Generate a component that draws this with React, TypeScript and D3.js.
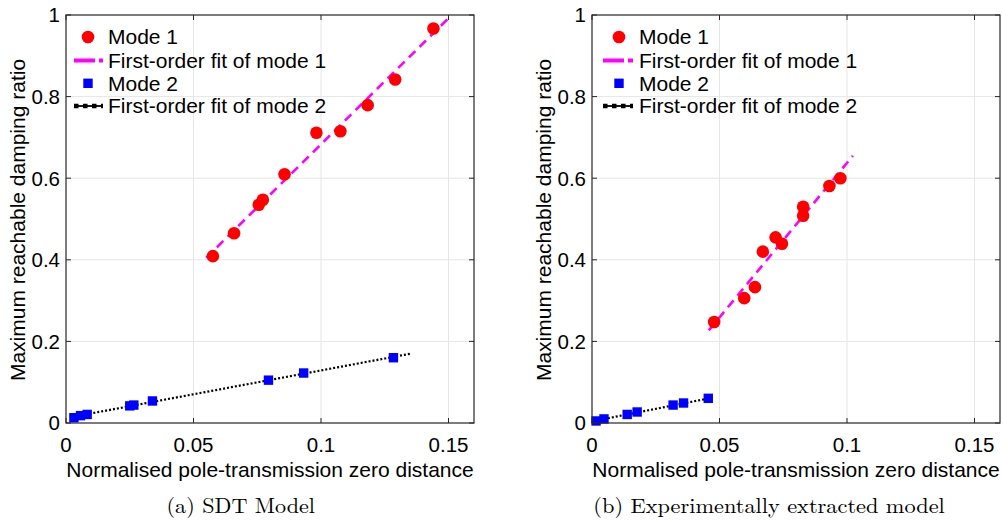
import React from "react";
import * as d3 from "d3";

// ---------- data ----------
const xTicks = [0, 0.05, 0.1, 0.15];
const yTicks = [0, 0.2, 0.4, 0.6, 0.8, 1];
const xTickLabels = ["0", "0.05", "0.1", "0.15"];
const yTickLabels = ["0", "0.2", "0.4", "0.6", "0.8", "1"];

// (a) SDT model
const sdtMode1X = [0.0576, 0.0659, 0.0756, 0.0772, 0.0857, 0.0982, 0.1076, 0.1183, 0.1291, 0.1441];
const sdtMode1Y = [0.409, 0.465, 0.535, 0.547, 0.6095, 0.7115, 0.715, 0.779, 0.842, 0.967];
const sdtFit1X = [0.055, 0.15];
const sdtFit1Y = [0.405, 0.992];
const sdtMode2X = [0.0031, 0.0057, 0.0083, 0.025, 0.0266, 0.0339, 0.0794, 0.0932, 0.1284];
const sdtMode2Y = [0.013, 0.018, 0.021, 0.042, 0.044, 0.054, 0.105, 0.1225, 0.16];
const sdtFit2X = [0.003, 0.1352];
const sdtFit2Y = [0.0155, 0.17];

// (b) Experimentally extracted model
const expMode1X = [0.0479, 0.0597, 0.0639, 0.067, 0.072, 0.0745, 0.0828, 0.0828, 0.0931, 0.0974];
const expMode1Y = [0.2475, 0.306, 0.333, 0.42, 0.455, 0.4395, 0.508, 0.53, 0.581, 0.6];
const expFit1X = [0.0458, 0.1023];
const expFit1Y = [0.227, 0.655];
const expMode2X = [0.0016, 0.0047, 0.0138, 0.0177, 0.0318, 0.0359, 0.0456];
const expMode2Y = [0.005, 0.01, 0.021, 0.027, 0.044, 0.049, 0.0605];
const expFit2X = [0.0016, 0.0456];
const expFit2Y = [0.006, 0.06];

const legendLabels = ["Mode 1", "First-order fit of mode 1", "Mode 2", "First-order fit of mode 2"];
const captions = ["(a) SDT Model", "(b) Experimentally extracted model"];
const xLabel = "Normalised pole-transmission zero distance";
const yLabel = "Maximum reachable damping ratio";

const SANS = "'Liberation Sans', Arial, sans-serif";
const SERIF = "'Latin Modern Roman', 'CMU Serif', 'DejaVu Serif', serif";

type PanelProps = {
  left: number;
  m1x: number[]; m1y: number[];
  f1x: number[]; f1y: number[];
  m2x: number[]; m2y: number[];
  f2x: number[]; f2y: number[];
  caption: string;
  captionStart: number;
  captionWidth: number;
  legMarker: number; legText: number; legLine: [number, number];
};

function Panel(p: PanelProps) {
  const top = 15, bottom = 423, width = 408;
  const x = d3.scaleLinear().domain([0, 0.16]).range([p.left, p.left + width]);
  const y = d3.scaleLinear().domain([0, 1]).range([bottom, top]);
  const line = d3.line<[number, number]>().x(d => x(d[0])).y(d => y(d[1]));
  const f1 = p.f1x.map((v, i) => [v, p.f1y[i]] as [number, number]);
  const f2 = p.f2x.map((v, i) => [v, p.f2y[i]] as [number, number]);
  const right = p.left + width;
  const cx = p.left + width / 2;
  const legY = [37, 60.5, 83.3, 106];
  const tl = 5;
  return (
    <g>
      {/* grid */}
      {xTicks.slice(1).map(t => (
        <line key={"gx" + t} x1={x(t)} x2={x(t)} y1={top} y2={bottom} stroke="#e6e6e6" strokeWidth={1} />
      ))}
      {yTicks.slice(1, -1).map(t => (
        <line key={"gy" + t} x1={p.left} x2={right} y1={y(t)} y2={y(t)} stroke="#e6e6e6" strokeWidth={1} />
      ))}
      {/* fits and markers */}
      <path d={line(f2) || ""} fill="none" stroke="#000" strokeWidth={2.2} strokeDasharray="2 2" />
      {p.m2x.map((v, i) => (
        <rect key={"s" + i} x={x(v) - 4.7} y={y(p.m2y[i]) - 4.7} width={9.4} height={9.4} fill="#0000ff" />
      ))}
      <path d={line(f1) || ""} fill="none" stroke="#ff00ff" strokeWidth={2.6} strokeDasharray="9 6" />
      {p.m1x.map((v, i) => (
        <circle key={"c" + i} cx={x(v)} cy={y(p.m1y[i])} r={6.3} fill="#ff0000" />
      ))}
      {/* box */}
      <rect x={p.left} y={top} width={width} height={bottom - top} fill="none" stroke="#262626" strokeWidth={1.2} />
      {/* ticks */}
      {xTicks.map(t => (
        <g key={"tx" + t}>
          <line x1={x(t)} x2={x(t)} y1={bottom} y2={bottom - tl} stroke="#262626" />
          <line x1={x(t)} x2={x(t)} y1={top} y2={top + tl} stroke="#262626" />
        </g>
      ))}
      {yTicks.map(t => (
        <g key={"ty" + t}>
          <line x1={p.left} x2={p.left + tl} y1={y(t)} y2={y(t)} stroke="#262626" />
          <line x1={right} x2={right - tl} y1={y(t)} y2={y(t)} stroke="#262626" />
        </g>
      ))}
      {/* tick labels */}
      {xTicks.map((t, i) => (
        <text key={"lx" + t} x={x(t)} y={452} textAnchor="middle" fontFamily={SANS} fontSize={20.5} fill="#000">
          {xTickLabels[i]}
        </text>
      ))}
      {yTicks.map((t, i) => (
        <text key={"ly" + t} x={p.left - 6} y={y(t) + 7.3} textAnchor="end" fontFamily={SANS} fontSize={20.5} fill="#000">
          {yTickLabels[i]}
        </text>
      ))}
      <text x={cx} y={477} textAnchor="middle" fontFamily={SANS} fontSize={21} fill="#000">{xLabel}</text>
      <text transform={`translate(${p.left - 41},${(top + bottom) / 2 + 1}) rotate(-90)`} textAnchor="middle" fontFamily={SANS} fontSize={21} fill="#000">
        {yLabel}
      </text>
      <text x={p.captionStart} y={513} textAnchor="start" fontFamily={SERIF} fontSize={21} fill="#000" textLength={p.captionWidth} lengthAdjust="spacingAndGlyphs">
        {p.caption}
      </text>
      {/* legend */}
      <circle cx={p.legMarker} cy={legY[0]} r={6.3} fill="#ff0000" />
      <line x1={p.legLine[0]} x2={p.legLine[1]} y1={legY[1]} y2={legY[1]} stroke="#ff00ff" strokeWidth={4} strokeDasharray="21 4" />
      <rect x={p.legMarker - 4.7} y={legY[2] - 4.7} width={9.4} height={9.4} fill="#0000ff" />
      <line x1={p.legLine[0]} x2={p.legLine[1]} y1={legY[3]} y2={legY[3]} stroke="#000" strokeWidth={1.8} />
      <line x1={p.legLine[0]} x2={p.legLine[1]} y1={legY[3]} y2={legY[3]} stroke="#000" strokeWidth={4.5} strokeDasharray="4.5 4.5" />
      {legendLabels.map((l, i) => (
        <text key={"lg" + i} x={p.legText} y={legY[i] + 7.3} fontFamily={SANS} fontSize={21} fill="#000">{l}</text>
      ))}
    </g>
  );
}

export default function App() {
  return (
    <svg width={1003} height={521} style={{ position: "absolute", left: 0, top: 0, background: "#fff" }}>
      <rect width={1003} height={521} fill="#fff" />
      <Panel left={66} m1x={sdtMode1X} m1y={sdtMode1Y} f1x={sdtFit1X} f1y={sdtFit1Y}
        m2x={sdtMode2X} m2y={sdtMode2Y} f2x={sdtFit2X} f2y={sdtFit2Y}
        caption={captions[0]} captionStart={166.5} captionWidth={148.5} legMarker={88} legText={108} legLine={[74, 103]} />
      <Panel left={592} m1x={expMode1X} m1y={expMode1Y} f1x={expFit1X} f1y={expFit1Y}
        m2x={expMode2X} m2y={expMode2Y} f2x={expFit2X} f2y={expFit2Y}
        caption={captions[1]} captionStart={593.3} captionWidth={351.5} legMarker={619} legText={639} legLine={[603, 633]} />
    </svg>
  );
}
